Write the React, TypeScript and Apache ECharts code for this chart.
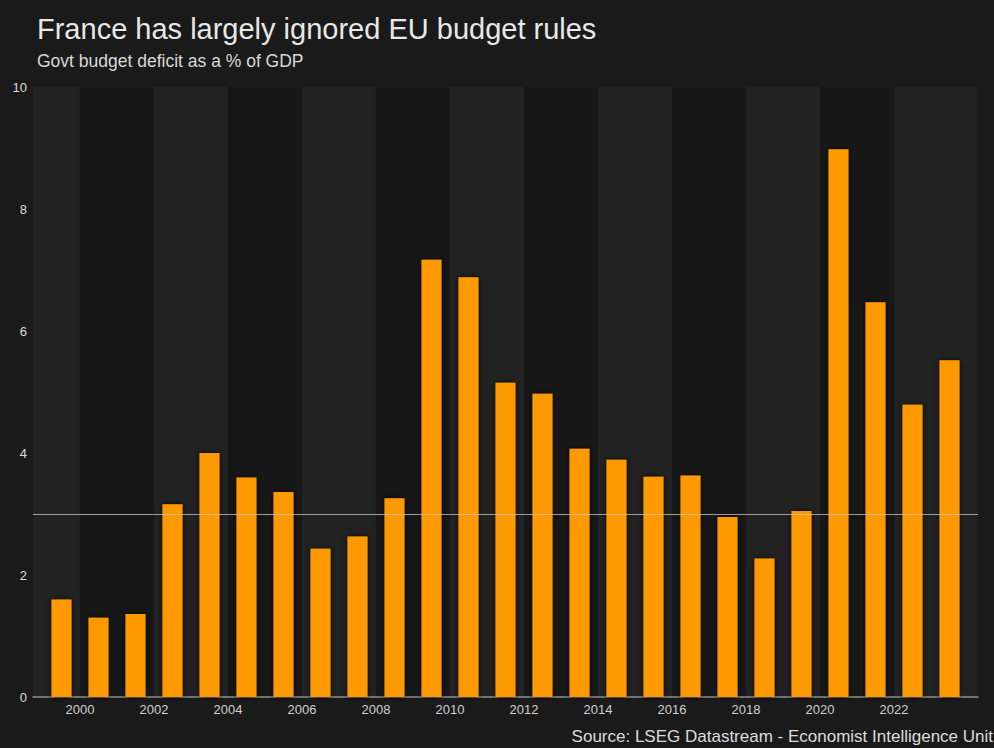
import React, { useEffect, useRef } from "react";
import * as echarts from "echarts";

// Fiscal years shown and the French general government deficit (% of GDP)
const years = [
  1999, 2000, 2001, 2002, 2003, 2004, 2005, 2006, 2007, 2008, 2009, 2010, 2011,
  2012, 2013, 2014, 2015, 2016, 2017, 2018, 2019, 2020, 2021, 2022, 2023,
];
const deficit = [
  1.6, 1.3, 1.36, 3.16, 4.0, 3.6, 3.36, 2.43, 2.63, 3.26, 7.17, 6.88, 5.15,
  4.97, 4.07, 3.89, 3.61, 3.63, 2.95, 2.27, 3.05, 8.98, 6.47, 4.79, 5.52,
];
// EU Stability and Growth Pact deficit limit
const euLimit = 3;
// Year ticks labelled on the horizontal axis
const yearTicks = [2000, 2002, 2004, 2006, 2008, 2010, 2012, 2014, 2016, 2018, 2020, 2022];
// Lighter background stripes, each spanning two years
const lightBands: [number | string, number | string][] = [
  ["min", 2000],
  [2002, 2004],
  [2006, 2008],
  [2010, 2012],
  [2014, 2016],
  [2018, 2020],
  [2022, "max"],
];
const darkBands: [number, number][] = [
  [2000, 2002],
  [2004, 2006],
  [2008, 2010],
  [2012, 2014],
  [2016, 2018],
  [2020, 2022],
];

const X_MIN = 1998.73;
const X_MAX = 2024.27;
const FONT = "Liberation Sans, Arial, sans-serif";

export default function App() {
  const ref = useRef<HTMLDivElement>(null);

  useEffect(() => {
    if (!ref.current) return;
    const chart = echarts.init(ref.current, undefined, { renderer: "svg" });

    const edge = (v: number | string) => (v === "min" ? X_MIN : v === "max" ? X_MAX : v);
    const bandData = [
      ...lightBands.map(([a, b]) => [
        { xAxis: edge(a), itemStyle: { color: "#222222" } },
        { xAxis: edge(b) },
      ]),
      ...darkBands.map(([a, b]) => [
        { xAxis: a, itemStyle: { color: "#171717" } },
        { xAxis: b },
      ]),
    ];

    chart.setOption({
      animation: false,
      backgroundColor: "#1a1a1a",
      grid: { left: 33, right: 16, top: 87, bottom: 51, containLabel: false },
      graphic: [
        {
          type: "text",
          left: 37,
          top: 14,
          style: {
            text: "France has largely ignored EU budget rules",
            fill: "#e8e8e8",
            font: `29px ${FONT}`,
          },
        },
        {
          type: "text",
          left: 37,
          top: 52,
          style: {
            text: "Govt budget deficit as a % of GDP",
            fill: "#d8d8d8",
            font: `17.5px ${FONT}`,
          },
        },
        {
          type: "text",
          right: 1,
          top: 728,
          style: {
            text: "Source: LSEG Datastream - Economist Intelligence Unit",
            fill: "#dcdcdc",
            font: `17px ${FONT}`,
          },
        },
      ],
      xAxis: {
        type: "value",
        min: X_MIN,
        max: X_MAX,
        z: 1,
        axisLine: { show: true, lineStyle: { color: "#8c8c8c", width: 1.5 } },
        axisTick: { show: false },
        splitLine: { show: false },
        axisLabel: {
          customValues: yearTicks,
          formatter: (v: number) => String(Math.round(v)),
          color: "#d0d0d0",
          fontFamily: FONT,
          fontSize: 13,
          margin: 6,
        },
      },
      yAxis: {
        type: "value",
        min: 0,
        max: 10,
        interval: 2,
        z: 1,
        axisLine: { show: false },
        axisTick: { show: false },
        axisLabel: {
          color: "#dcdcdc",
          fontFamily: FONT,
          fontSize: 13,
          margin: 6,
        },
        splitLine: {
          show: true,
          lineStyle: { color: "#383838", type: [3, 3], width: 1 },
        },
      },
      series: [
        {
          type: "scatter",
          z: 0,
          silent: true,
          data: [],
          markArea: { silent: true, data: bandData },
        },
        {
          type: "bar",
          z: 2,
          barWidth: 20,
          itemStyle: {
            color: "#ff9900",
            shadowColor: "rgba(0,0,0,0.9)",
            shadowBlur: 5,
          },
          data: years.map((y, i) => [y + 0.5, deficit[i]]),
          markLine: {
            silent: true,
            symbol: "none",
            label: { show: false },
            lineStyle: { color: "rgba(200,200,200,0.75)", type: "solid", width: 1 },
            data: [{ yAxis: euLimit }],
          },
        },
      ],
    });

    return () => chart.dispose();
  }, []);

  return (
    <div
      ref={ref}
      style={{ position: "fixed", left: 0, top: 0, width: 994, height: 748 }}
    />
  );
}
